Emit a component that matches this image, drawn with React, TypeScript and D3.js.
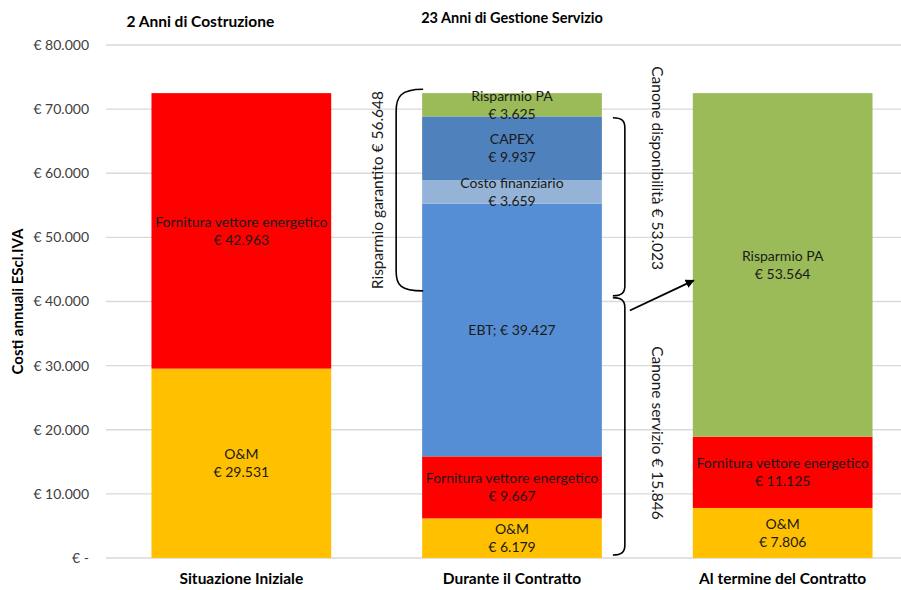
import React from "react";
import * as d3 from "d3";

const categories = ["Situazione Iniziale", "Durante il Contratto", "Al termine del Contratto"];
const seriesKeys = ["O&M", "Fornitura vettore energetico", "EBT", "Costo finanziario", "CAPEX", "Risparmio PA"];
const omValues = [29531, 6179, 7806];
const fornituraValues = [42963, 9667, 11125];
const ebtValues = [0, 39427, 0];
const costoFinValues = [0, 3659, 0];
const capexValues = [0, 9937, 0];
const risparmioValues = [0, 3625, 53564];
const yTicks = [0, 10000, 20000, 30000, 40000, 50000, 60000, 70000, 80000];

// annotation spans, in chart units
const garantitoSpan = [41650, 73100];
const disponibilitaSpan = [40900, 68650];
const servizioSpan = [470, 40600];

const colors: Record<string, string> = {
  "O&M": "#FFC000",
  "Fornitura vettore energetico": "#FF0000",
  EBT: "#558ED5",
  "Costo finanziario": "#95B3D7",
  CAPEX: "#4F81BD",
  "Risparmio PA": "#9BBB59",
};

const valuesByKey: Record<string, number[]> = {
  "O&M": omValues,
  "Fornitura vettore energetico": fornituraValues,
  EBT: ebtValues,
  "Costo finanziario": costoFinValues,
  CAPEX: capexValues,
  "Risparmio PA": risparmioValues,
};

const locale = d3.formatLocale({ decimal: ",", thousands: ".", grouping: [3], currency: ["€ ", ""] });
const fmt = locale.format(",.0f");
const euro = (v: number) => (v === 0 ? "€ -" : `€ ${fmt(v)}`);

const width = 901;
const height = 590;
const font = "Lato, 'Noto Sans', sans-serif";

export default function App() {
  const table = categories.map((c, i) => {
    const row: Record<string, number | string> = { cat: c };
    seriesKeys.forEach((k) => (row[k] = valuesByKey[k][i]));
    return row;
  });
  const stacked = d3.stack<Record<string, number | string>>().keys(seriesKeys)(table as any);

  const x = d3.scaleBand<string>().domain(categories).range([106, 918]).paddingInner(0.336).paddingOuter(0.168);
  const y = d3.scaleLinear().domain([0, 80000]).range([558, 45]);
  const bw = x.bandwidth();

  const x2 = x(categories[1])!;
  const x3 = x(categories[2])!;

  // left bracket (Risparmio garantito)
  const lbRight = x2 + 1;
  const lbLeft = x2 - 26;
  const gTop = y(garantitoSpan[1]);
  const gBot = y(garantitoSpan[0]);
  const leftBracket = `M${lbRight},${gTop} C${lbLeft + 4},${gTop} ${lbLeft},${gTop + 8} ${lbLeft},${gTop + 22} L${lbLeft},${gBot - 20} C${lbLeft},${gBot - 6} ${lbLeft + 4},${gBot} ${lbRight},${gBot}`;

  // right brackets
  const rbEnd = x2 + bw + 11;
  const rbLine = x2 + bw + 23;
  const rightBracket = (y0: number, y1: number) => {
    const t = y(y1);
    const b = y(y0);
    return `M${rbEnd},${t} C${rbLine - 3},${t} ${rbLine},${t + 3} ${rbLine},${t + 10} L${rbLine},${b - 10} C${rbLine},${b - 3} ${rbLine - 3},${b} ${rbEnd},${b}`;
  };

  const arrowStart: [number, number] = [x2 + bw + 28, y(38600)];
  const arrowEnd: [number, number] = [x3 + 1, y(43300)];

  return (
    <div style={{ position: "absolute", left: 0, top: 0 }}>
      <svg width={width} height={height} style={{ background: "#fff", display: "block" }} fontFamily={font}>
        <defs>
          <marker id="arrowhead" viewBox="0 0 10 10" refX="9" refY="5" markerWidth="5" markerHeight="5" orient="auto">
            <path d="M0,0 L10,5 L0,10 z" fill="#000" />
          </marker>
        </defs>

        {/* gridlines and y labels */}
        {yTicks.map((t) => (
          <g key={t}>
            <line x1={106} x2={width} y1={y(t)} y2={y(t)} stroke="#D9D9D9" strokeWidth={1.3} />
            <text x={89} y={y(t)} dy="0.35em" textAnchor="end" fontSize={14} fill="#404040">
              {euro(t)}
            </text>
          </g>
        ))}

        {/* bars */}
        {stacked.map((s) =>
          s.map((d, i) =>
            d[1] - d[0] > 0 ? (
              <rect
                key={`${s.key}-${i}`}
                x={x(categories[i])}
                y={y(d[1])}
                width={bw}
                height={y(d[0]) - y(d[1])}
                fill={colors[s.key]}
              />
            ) : null
          )
        )}

        {/* segment labels */}
        {stacked.map((s) =>
          s.map((d, i) => {
            const v = d[1] - d[0];
            if (v <= 0) return null;
            const cx = x(categories[i])! + bw / 2;
            const cy = y((d[0] + d[1]) / 2);
            if (s.key === "EBT") {
              return (
                <text key={`l-${s.key}-${i}`} x={cx} y={cy} dy="0.35em" textAnchor="middle" fontSize={14} fill="#1a1a1a">
                  {`EBT; ${euro(v)}`}
                </text>
              );
            }
            return (
              <g key={`l-${s.key}-${i}`} fontSize={14} fill="#1a1a1a" textAnchor="middle">
                <text x={cx} y={cy - 9} dy="0.35em">{s.key}</text>
                <text x={cx} y={cy + 9} dy="0.35em">{euro(v)}</text>
              </g>
            );
          })
        )}

        {/* category labels */}
        {categories.map((c) => (
          <text key={c} x={x(c)! + bw / 2} y={579} dy="0.35em" textAnchor="middle" fontSize={15.5} fontWeight="bold" fill="#000">
            {c}
          </text>
        ))}

        {/* headers */}
        <text x={x(categories[0])! + bw / 2 - 41} y={22} dy="0.35em" textAnchor="middle" fontSize={15.5} fontWeight="bold">
          2 Anni di Costruzione
        </text>
        <text x={x2 + bw / 2} y={18} dy="0.35em" textAnchor="middle" fontSize={14.5} fontWeight="bold">
          23 Anni di Gestione Servizio
        </text>

        {/* y axis title */}
        <text transform={`translate(18,${y(40000)}) rotate(-90)`} dy="0.35em" textAnchor="middle" fontSize={15} fontWeight="bold">
          Costi annuali EScl.IVA
        </text>

        {/* brackets */}
        <path d={leftBracket} fill="none" stroke="#000" strokeWidth={1.6} />
        <text transform={`translate(${lbLeft - 19},${(gTop + gBot) / 2}) rotate(-90)`} dy="0.35em" textAnchor="middle" fontSize={15.5} fill="#1a1a1a">
          Risparmio garantito € 56.648
        </text>
        <path d={rightBracket(disponibilitaSpan[0], disponibilitaSpan[1])} fill="none" stroke="#000" strokeWidth={1.6} />
        <path d={rightBracket(servizioSpan[0], servizioSpan[1])} fill="none" stroke="#000" strokeWidth={1.6} />
        <text transform={`translate(${rbLine + 33},${y(60800)}) rotate(90)`} dy="0.35em" textAnchor="middle" fontSize={15.5} fill="#1a1a1a">
          Canone disponibilità € 53.023
        </text>
        <text transform={`translate(${rbLine + 33},${y(19500)}) rotate(90)`} dy="0.35em" textAnchor="middle" fontSize={15.5} fill="#1a1a1a">
          Canone servizio € 15.846
        </text>

        {/* arrow */}
        <line
          x1={arrowStart[0]}
          y1={arrowStart[1]}
          x2={arrowEnd[0]}
          y2={arrowEnd[1]}
          stroke="#000"
          strokeWidth={1.8}
          markerEnd="url(#arrowhead)"
        />
      </svg>
    </div>
  );
}
